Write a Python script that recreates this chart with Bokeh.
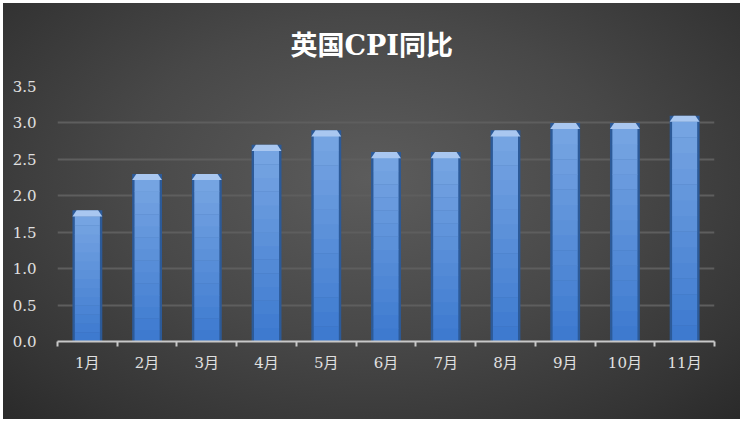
from bokeh.plotting import figure
from bokeh.embed import file_html
from bokeh.resources import INLINE
from bokeh.models import FixedTicker, Range1d

months = ["1月", "2月", "3月", "4月", "5月", "6月", "7月", "8月", "9月", "10月", "11月"]
cpi = [1.8, 2.3, 2.3, 2.7, 2.9, 2.6, 2.6, 2.9, 3.0, 3.0, 3.1]
y_ticks = [0.0, 0.5, 1.0, 1.5, 2.0, 2.5, 3.0, 3.5]
title_text = "英国CPI同比"

xs = list(range(1, len(months) + 1))

p = figure(width=737, height=416, output_backend="svg", toolbar_location=None,
           x_range=Range1d(0.5, len(months) + 0.5), y_range=Range1d(0, 3.5),
           min_border_left=54, min_border_right=26, min_border_top=83, min_border_bottom=78)

p.styles = {"margin-left": "3px", "margin-top": "3px",
            "background": "radial-gradient(ellipse 75% 85% at 50% 42%, #5c5c5c 0%, #484848 45%, #343434 80%, #272727 100%)"}
p.background_fill_alpha = 0
p.border_fill_alpha = 0
p.outline_line_color = None

p.title.text = title_text
p.title.align = "left"
p.title.offset = 233
p.title.standoff = 50
p.title.vertical_align = "middle"
p.title.text_color = "#ffffff"
p.title.text_font = "'DejaVu Serif', 'Noto Sans CJK SC'"
p.title.text_font_size = "27px"
p.title.text_font_style = "bold"

# bars: layered to mimic Excel bevel/gradient
bw = 0.5
cap = 0.085
p.vbar(x=xs, top=cpi, width=bw, bottom=0, fill_color="#2c5a98", line_color=None)
# vertical gradient body (lighter toward the top)
n = 14
top_rgb = (0x78, 0xa6, 0xe3)
bot_rgb = (0x3c, 0x79, 0xcf)
for i in range(n):
    f = (i + 0.5) / n
    c = tuple(int(b + (t - b) * f) for t, b in zip(top_rgb, bot_rgb))
    col = "#%02x%02x%02x" % c
    p.vbar(x=xs, bottom=[(v - cap) * i / n for v in cpi], top=[(v - cap) * (i + 1) / n + 0.004 for v in cpi],
           width=bw * 0.84, fill_color=col, line_color=None)
# bevel cap
cap_xs = []
cap_ys = []
for x, v in zip(xs, cpi):
    h = bw / 2
    cap_xs.append([x - h, x + h, x + h * 0.72, x - h * 0.72])
    cap_ys.append([v - cap, v - cap, v, v])
p.patches(cap_xs, cap_ys, fill_color="#a9c7f0", line_color=None)

# axes
p.xaxis.ticker = FixedTicker(ticks=xs, minor_ticks=[x + 0.5 for x in [0] + xs])
p.xaxis.major_label_overrides = {x: m for x, m in zip(xs, months)}
p.xaxis.major_tick_line_color = None
p.xaxis.minor_tick_line_color = "#c8c8c8"
p.xaxis.minor_tick_line_width = 2
p.xaxis.minor_tick_out = 5
p.xaxis.minor_tick_in = 0
p.xaxis.axis_line_color = "#c8c8c8"
p.xaxis.axis_line_width = 2
p.xaxis.major_label_text_color = "#e0e0e0"
p.xaxis.major_label_text_font = "'DejaVu Serif', 'Noto Sans CJK SC'"
p.xaxis.major_label_text_font_size = "15px"
p.xaxis.major_label_standoff = 6

p.yaxis.ticker = FixedTicker(ticks=y_ticks)
p.yaxis.major_label_overrides = {t: f"{t:.1f}" for t in y_ticks}
p.yaxis.axis_line_color = None
p.yaxis.major_tick_line_color = None
p.yaxis.minor_tick_line_color = None
p.yaxis.major_label_text_color = "#e0e0e0"
p.yaxis.major_label_text_font = "'DejaVu Serif'"
p.yaxis.major_label_text_font_size = "15px"
p.yaxis.major_label_standoff = 15

p.xgrid.grid_line_color = None
p.ygrid.grid_line_color = "#5e5e5e"
p.ygrid.grid_line_width = 2

open("out.html", "w").write(file_html(p, INLINE))
